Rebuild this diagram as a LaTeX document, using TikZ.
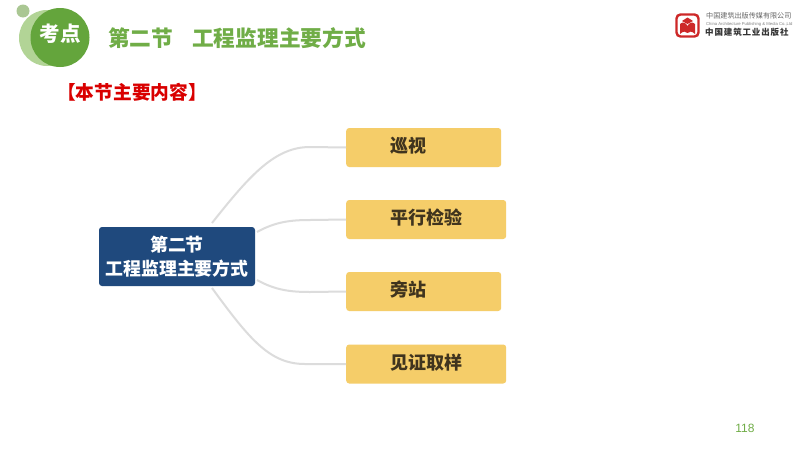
\documentclass[tikz,border=0pt]{standalone}
\usepackage{fontspec}
\usepackage{xcolor}
\setmainfont{Liberation Sans}
\newfontfamily\cjk{Noto Sans CJK SC}
\definecolor{kaodianGreen}{RGB}{100, 165, 60}
\definecolor{kaodianLight}{RGB}{178, 212, 150}
\definecolor{titleGreen}{RGB}{112, 173, 71}
\definecolor{rootBlue}{RGB}{31, 73, 125}
\definecolor{itemYellow}{RGB}{245, 205, 105}
\definecolor{itemText}{RGB}{64, 52, 30}
\definecolor{branchGray}{RGB}{220, 220, 220}
\definecolor{logoRed}{RGB}{205, 40, 40}
\tikzset{
  itembox/.style={rounded corners=3pt, fill=itemYellow, minimum height=39pt, inner xsep=4pt, inner ysep=0pt,
    anchor=west, text width=#1, align=left, text=itemText, text depth=5.5pt, font=\cjk\bfseries\fontsize{18}{20}\selectfont,
    execute at begin node=\hspace*{40pt}},
  branch/.style={branchGray, line width=2pt},
  titletext/.style={text=titleGreen, anchor=west, inner sep=0pt, font=\cjk\bfseries\fontsize{21.7}{24}\selectfont},
}
\begin{document}
\begin{tikzpicture}[x=1pt, y=-1pt]
  \useasboundingbox (0,0) rectangle (800,450);
  \fill[white] (0,0) rectangle (800,450);
  % badge
  \fill[kaodianLight] (47,38) circle (28);
  \fill[kaodianLight!85!gray] (23,11) circle (6.5);
  \fill[kaodianGreen] (60,37.5) circle (29.5);
  \node[text=white, inner sep=0pt, font=\cjk\bfseries\fontsize{20.5}{22}\selectfont] (badge) at (60,34) {考点};
  \node[titletext] (sec) at (108,38) {第二节};
  \node[titletext] (title) at (192,38) {工程监理主要方式};
  \node[text=red!85!black, anchor=west, inner sep=0pt, font=\cjk\bfseries\fontsize{18.7}{22}\selectfont] (intro) at (57,92) {【本节主要内容】};
  % logo
  \draw[logoRed, line width=2.4pt, rounded corners=4pt] (676.5,14.5) rectangle (698.5,36.5);
  \fill[logoRed] (680,34) -- (680,24) .. controls (683,21) and (686,23) .. (687.5,26) .. controls (689,23) and (692,21) .. (695,24) -- (695,34) .. controls (692,31) and (689,31) .. (687.5,33) .. controls (686,31) and (683,31) .. cycle;
  \fill[logoRed] (682,21) -- (687.5,17.5) -- (693,21) -- (687.5,24) -- cycle;
  \node[text=black!60, anchor=west, inner sep=0pt, font=\cjk\fontsize{7.1}{8}\selectfont] (pub) at (706,16) {中国建筑出版传媒有限公司};
  \node[text=black!50, anchor=west, inner sep=0pt, font=\fontsize{4.2}{5}\selectfont] (puben) at (706,24) {China Architecture Publishing \& Media Co.,Ltd};
  \node[text=black!80, anchor=west, inner sep=0pt, font=\cjk\bfseries\fontsize{8.5}{10}\selectfont\addfontfeature{LetterSpace=10}] (press) at (705,32.5) {中国建筑工业出版社};
  % mind map
  \node[rounded corners=3pt, fill=rootBlue, text=white, minimum width=156pt, minimum height=59pt, inner sep=0pt,
    align=center, font=\cjk\bfseries\fontsize{17.9}{24}\selectfont] (root) at (177,256.5) {第二节\\工程监理主要方式};
  \node[itembox=147pt] (xunshi) at (346,147.5) {巡视};
  \node[itembox=152pt] (pingxing) at (346,219.5) {平行检验};
  \node[itembox=147pt] (pangzhan) at (346,291.5) {旁站};
  \node[itembox=152pt] (jianzheng) at (346,364) {见证取样};
  \coordinate (rootA) at (212,223);
  \coordinate (rootB) at (257,232);
  \coordinate (rootC) at (257,280);
  \coordinate (rootD) at (212,288);
  \draw[branch] (rootA) .. controls (250,175) and (275,147) .. (310,147) -- (xunshi.west);
  \draw[branch] (rootB) .. controls (275,222) and (290,220) .. (310,220) -- (pingxing.west);
  \draw[branch] (rootC) .. controls (275,290) and (290,292) .. (310,292) -- (pangzhan.west);
  \draw[branch] (rootD) .. controls (250,340) and (270,364) .. (305,364) -- (jianzheng.west);
  \node[text=titleGreen, inner sep=0pt, font=\fontsize{12}{14}\selectfont] (page) at (745,428) {118};
\end{tikzpicture}
\end{document}
